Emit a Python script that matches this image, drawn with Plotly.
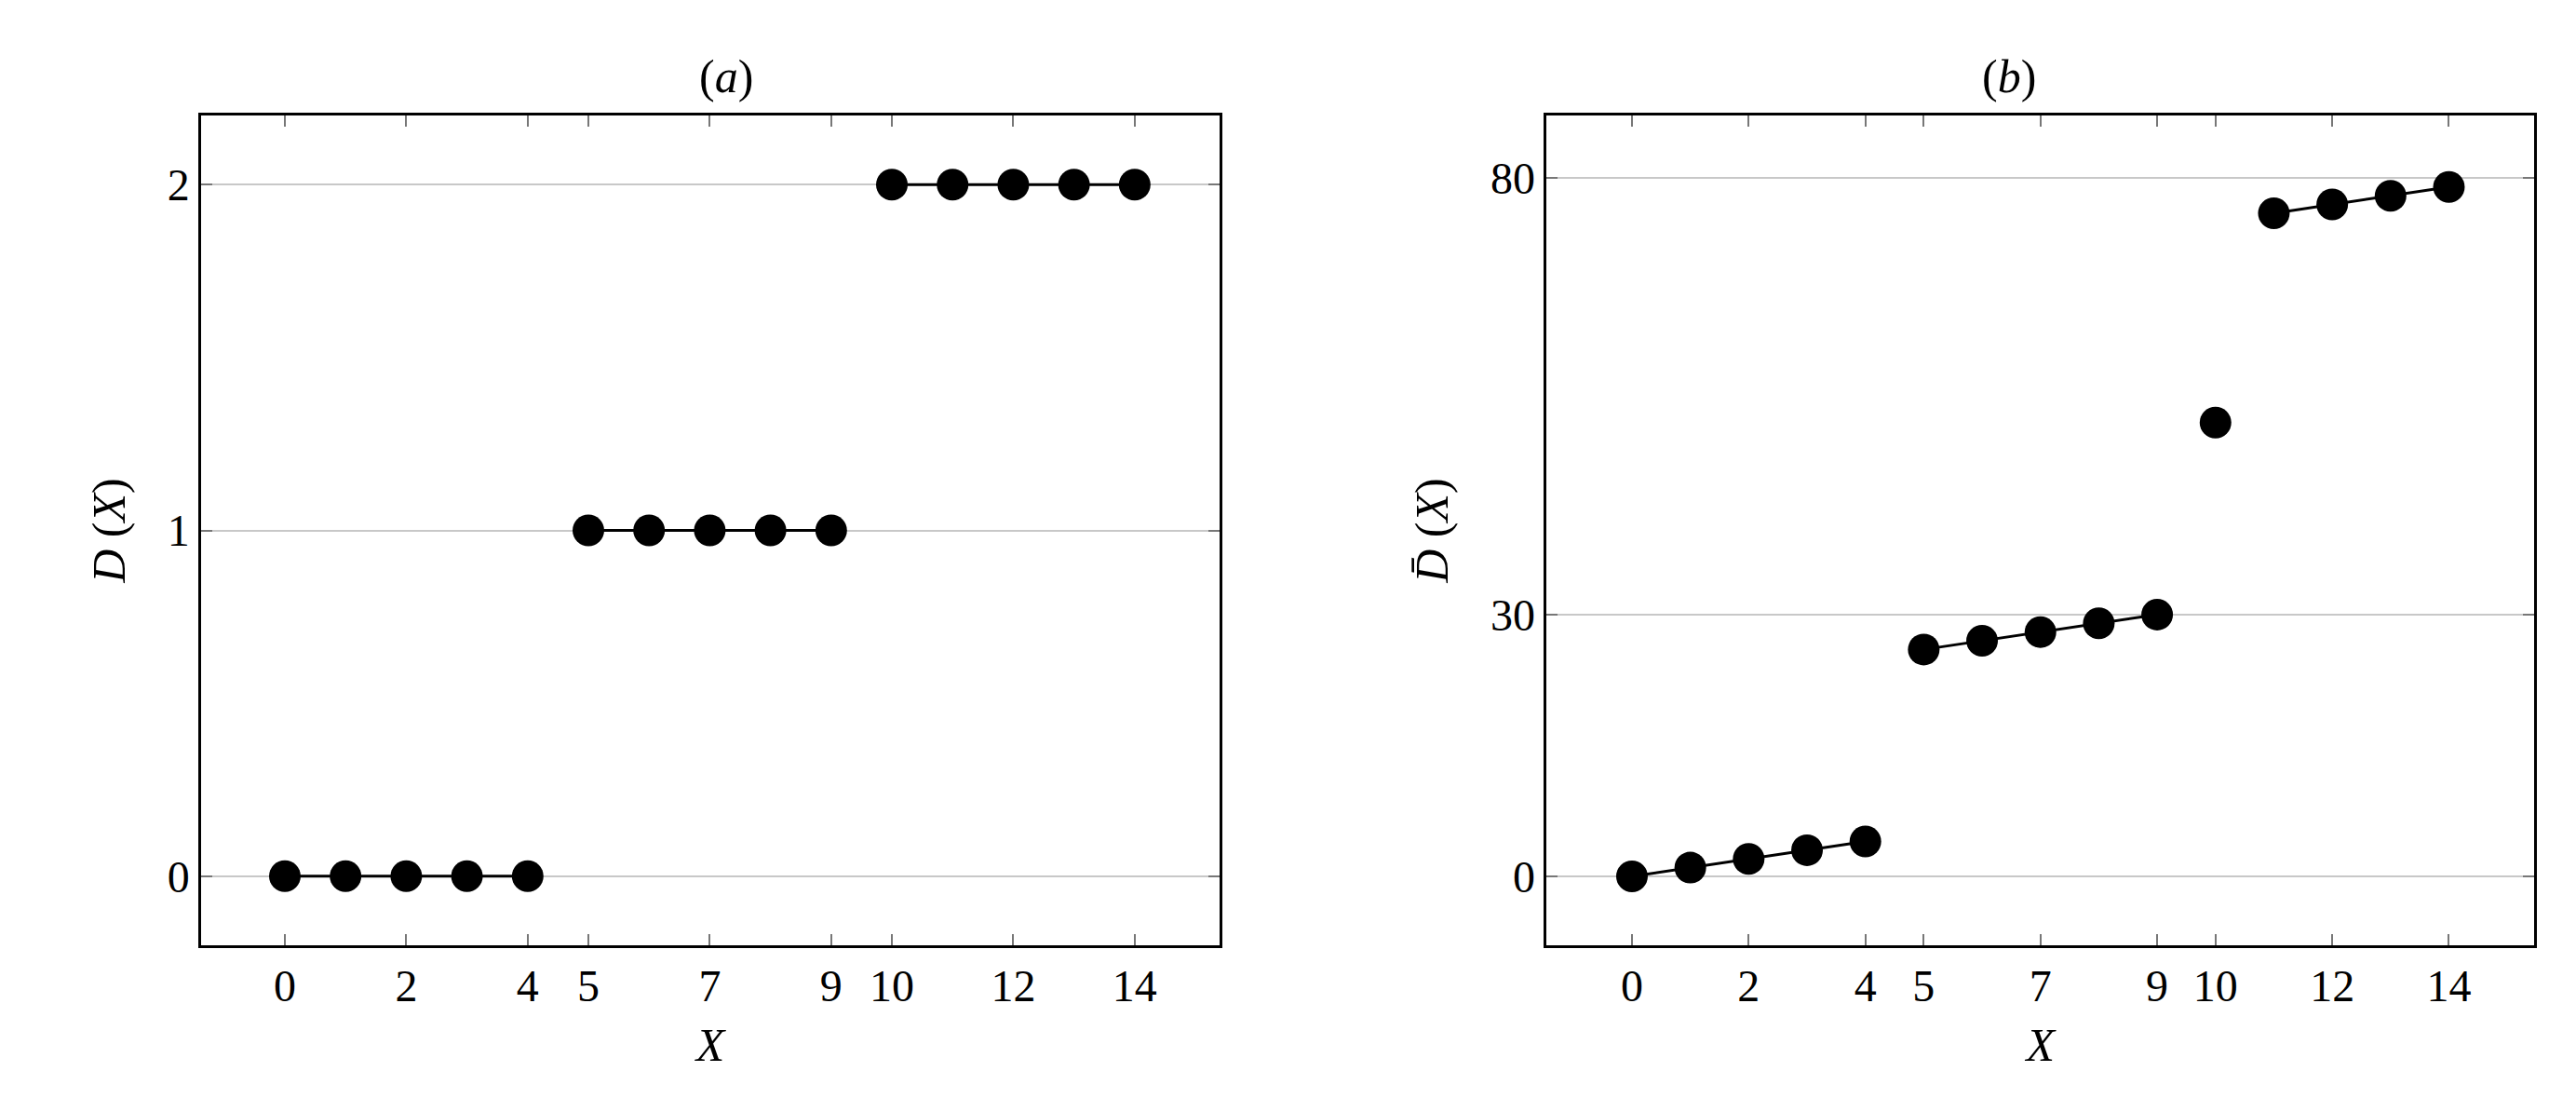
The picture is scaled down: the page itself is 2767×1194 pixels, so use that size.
import plotly.graph_objects as go
from plotly.subplots import make_subplots

x_vals = list(range(15))
d_vals = [0, 0, 0, 0, 0, 1, 1, 1, 1, 1, 2, 2, 2, 2, 2]
dbar_vals = [0, 1, 2, 3, 4, 26, 27, 28, 29, 30, 52, 76, 77, 78, 79]
segments_a = [(0, 5), (5, 10), (10, 15)]
segments_b = [(0, 5), (5, 10), (10, 11), (11, 15)]
x_ticks = [0, 2, 4, 5, 7, 9, 10, 12, 14]
ya_ticks = [0, 1, 2]
yb_ticks = [0, 30, 80]

FONT = "Liberation Serif"

fig = make_subplots(rows=1, cols=2,
                    subplot_titles=["(<i>a</i>)", "(<i>b</i>)"])

for col, yv, segs in [(1, d_vals, segments_a), (2, dbar_vals, segments_b)]:
    for s, e in segs:
        fig.add_trace(go.Scatter(
            x=x_vals[s:e], y=yv[s:e], mode="lines+markers",
            line=dict(color="black", width=3),
            marker=dict(color="black", size=34),
            showlegend=False), row=1, col=col)

axis_common = dict(showline=True, linecolor="black", linewidth=2.5, mirror="ticks",
                   ticks="inside", ticklen=12, tickcolor="#777", tickwidth=2, zeroline=False,
                   tickfont=dict(family=FONT, size=48, color="black"))
for col, rng in [(1, [-1.38, 15.4]), (2, [-1.46, 15.46])]:
    fig.update_xaxes(axis_common, range=rng, tickvals=x_ticks, showgrid=False,
                     title=dict(text="<i>X</i>", font=dict(family=FONT, size=50, color="black"),
                                standoff=20),
                     row=1, col=col)
fig.update_xaxes(domain=[0, 0.4366], row=1, col=1)
fig.update_xaxes(domain=[0.5768, 1], row=1, col=2)
fig.update_yaxes(axis_common, range=[-0.2, 2.2], tickvals=ya_ticks, showgrid=True,
                 gridcolor="#c8c8c8", gridwidth=2,
                 title=dict(text="<i>D</i> (<i>X</i>)", font=dict(family=FONT, size=50, color="black"),
                            standoff=30),
                 row=1, col=1)
fig.update_yaxes(axis_common, range=[-7.9, 87.2], tickvals=yb_ticks, showgrid=True,
                 gridcolor="#c8c8c8", gridwidth=2,
                 title=dict(text="<i>D̄</i> (<i>X</i>)", font=dict(family=FONT, size=50, color="black"),
                            standoff=30),
                 row=1, col=2)

for ann in fig.layout.annotations:
    ann.font = dict(family=FONT, size=50, color="black")
    ann.yshift = 12

fig.update_layout(width=2767, height=1194, plot_bgcolor="white", paper_bgcolor="white",
                  margin=dict(l=208, r=53, t=116, b=187))
fig.write_html("out.html")
